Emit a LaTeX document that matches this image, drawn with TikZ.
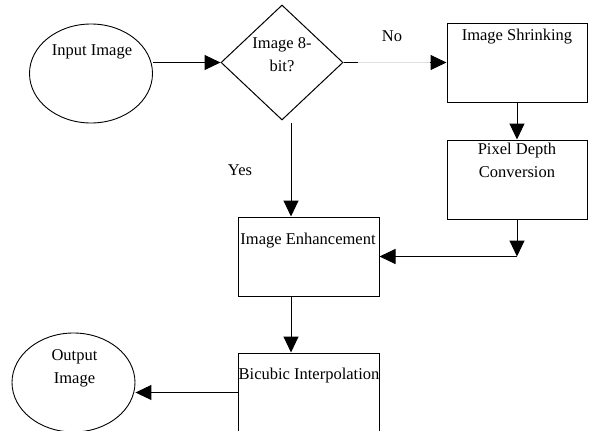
\documentclass[tikz,border=0pt]{standalone}
\usepackage{fontspec}
\setmainfont{Liberation Serif}
\usetikzlibrary{shapes.geometric,arrows.meta}
\begin{document}
\begin{tikzpicture}
[x=1pt,y=-1pt,
box/.style={draw,line width=1pt,minimum width=141pt,minimum height=79pt,inner sep=0pt},
oval/.style={draw,ellipse,line width=0.9pt,minimum width=123pt,minimum height=99pt,inner sep=0pt},
txt/.style={align=center,inner sep=0pt,font=\fontsize{16.5}{22.5}\selectfont},
arr/.style={line width=1pt,-{Triangle[length=16pt,width=15pt]}}]
\useasboundingbox (0,0) rectangle (589,431);
\node[oval] (input) at (91,73.5) {};
\node[txt] (inputtxt) at (92,52) {Input Image};
\node[draw,diamond,line width=1pt,minimum width=122pt,minimum height=115pt,inner sep=0pt] (dec) at (282,62.5) {};
\node[txt] (dectxt) at (282,54.5) {Image 8-\\bit?};
\node[box,minimum width=140pt] (shrink) at (517,62.5) {};
\node[txt] (shrinktxt) at (517,37) {Image Shrinking};
\node[box,minimum width=140pt] (pixel) at (517,179.5) {};
\node[txt] (pixeltxt) at (517,160.5) {Pixel Depth\\Conversion};
\node[box] (enhance) at (308.5,256.5) {};
\node[txt] (enhancetxt) at (308,241) {Image Enhancement};
\node[box] (bicubic) at (308.5,392.5) {};
\node[txt] (bicubictxt) at (309,376) {Bicubic Interpolation};
\node[oval] (output) at (73.5,382.5) {};
\node[txt] (outputtxt) at (74.5,368.5) {Output\\Image};
\node[txt] (notxt) at (392,36) {No};
\node[txt] (yestxt) at (240,170) {Yes};
\draw[arr] (input.east |- dec.west) -- (dec.west);
\draw[line width=1pt] (dec.east) -- ++(14,0) coordinate (nostart);
\coordinate (noend) at ([xshift=-17pt]shrink.west);
\draw[gray!25,line width=0.8pt] (nostart) -- (noend);
\draw[arr] (noend) -- (shrink.west);
\draw[arr] (shrink.south) -- (pixel.north);
\coordinate (yesx) at ([xshift=9pt,yshift=-2pt]dec.south);
\draw[arr] (yesx) -- (yesx |- enhance.north);
\draw[arr] (pixel.south) -- (pixel.south |- enhance.east);
\draw[arr] (pixel.south |- enhance.east) -- (enhance.east);
\draw[arr] (yesx |- enhance.south) -- (yesx |- bicubic.north);
\draw[arr] (bicubic.west) -- (bicubic.west -| output.east);
\end{tikzpicture}
\end{document}
